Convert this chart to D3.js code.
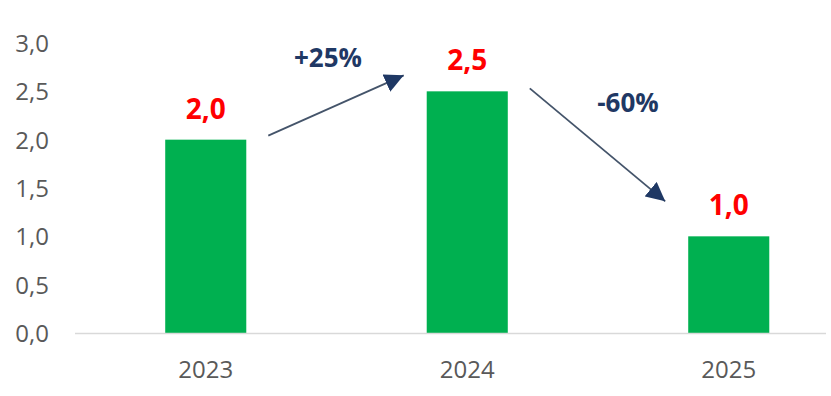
<!DOCTYPE html>
<html>
<head>
<meta charset="utf-8">
<script src="https://cdn.jsdelivr.net/npm/d3@7"></script>
<style>
  body { margin: 0; background: #fff; }
  text { font-family: "Open Sans", sans-serif; }
</style>
</head>
<body>
<div id="grafico"></div>
<script>
var anos = ["2023", "2024", "2025"];
var valores = [2.0, 2.5, 1.0];
var ticks_y = [0, 0.5, 1.0, 1.5, 2.0, 2.5, 3.0];
var variacoes = ["+25%", "-60%"];

var width = 831, height = 396;
var cor_barra = "#00b050";
var cor_rotulo = "#ff0000";
var cor_seta = "#1f3864";
var cor_texto = "#595959";

var fmt = function(v){ return d3.format(".1f")(v).replace(".", ","); };

var svg = d3.select("#grafico")
            .append("svg")
            .attr("width", width)
            .attr("height", height);

var x = d3.scaleBand()
          .domain(anos)
          .range([75, 859.5])
          .paddingInner(0.69)
          .paddingOuter(0.345);

var y = d3.scaleLinear()
          .domain([0, 3])
          .range([333, 43]);

// eixo y (apenas rótulos)
var yAxis = d3.axisLeft(y)
              .tickValues(ticks_y)
              .tickFormat(fmt)
              .tickSize(0)
              .tickPadding(0);

svg.append("g")
   .attr("class", "y axis")
   .attr("transform", "translate(49,0)")
   .call(yAxis)
   .call(function(g){ g.select(".domain").remove(); })
   .selectAll("text")
   .style("font-size", "24px")
   .style("font-family", "'Open Sans', sans-serif")
   .attr("fill", cor_texto)
   .attr("dy", "0.35em");

// barras
svg.append("g")
   .selectAll("rect")
   .data(valores)
   .enter()
   .append("rect")
   .attr("x", function(d, i){ return x(anos[i]); })
   .attr("y", function(d){ return y(d); })
   .attr("width", x.bandwidth())
   .attr("height", function(d){ return y(0) - y(d); })
   .style("fill", cor_barra);

// linha base
svg.append("line")
   .attr("x1", 75)
   .attr("x2", 826)
   .attr("y1", y(0) + 0.5)
   .attr("y2", y(0) + 0.5)
   .style("stroke", "#d9d9d9")
   .style("stroke-width", 1.5);

// eixo x
var xAxis = d3.axisBottom(x).tickSize(0).tickPadding(0);

svg.append("g")
   .attr("class", "x axis")
   .attr("transform", "translate(0," + (y(0)) + ")")
   .call(xAxis)
   .call(function(g){ g.select(".domain").remove(); })
   .selectAll("text")
   .style("font-size", "24px")
   .style("font-family", "'Open Sans', sans-serif")
   .attr("fill", cor_texto)
   .attr("dy", "0")
   .attr("y", 45);

// rótulos de dados
svg.append("g")
   .selectAll("text")
   .data(valores)
   .enter()
   .append("text")
   .attr("x", function(d, i){ return x(anos[i]) + x.bandwidth() / 2; })
   .attr("y", function(d){ return y(d) - 21; })
   .attr("text-anchor", "middle")
   .style("font-size", "28px")
   .style("font-weight", "bold")
   .style("fill", cor_rotulo)
   .text(fmt);

// setas de variação
svg.append("defs")
   .append("marker")
   .attr("id", "ponta")
   .attr("viewBox", "0 0 10 10")
   .attr("refX", 10)
   .attr("refY", 5)
   .attr("markerUnits", "userSpaceOnUse")
   .attr("markerWidth", 19)
   .attr("markerHeight", 19)
   .attr("orient", "auto")
   .append("path")
   .attr("d", "M0,0 L10,5 L0,10 z")
   .style("fill", cor_seta);

var setas = variacoes.map(function(v, i){
    var a = anos[i], b = anos[i + 1];
    var sobe = valores[i + 1] > valores[i];
    return {
        rotulo: v,
        x1: x(a) + x.bandwidth() + 22,
        y1: sobe ? y(valores[i]) - 4 : y(valores[i]) - 3,
        x2: x(b) - 23,
        y2: sobe ? y(valores[i + 1]) - 16 : y(valores[i + 1]) - 35,
        tx: sobe ? 328 : 628,
        ty: sobe ? 67 : 112
    };
});

svg.append("g")
   .selectAll("line")
   .data(setas)
   .enter()
   .append("line")
   .attr("x1", function(d){ return d.x1; })
   .attr("y1", function(d){ return d.y1; })
   .attr("x2", function(d){ return d.x2; })
   .attr("y2", function(d){ return d.y2; })
   .style("stroke", "#44546a")
   .style("stroke-width", 1.8)
   .attr("marker-end", "url(#ponta)");

svg.append("g")
   .selectAll("text")
   .data(setas)
   .enter()
   .append("text")
   .attr("x", function(d){ return d.tx; })
   .attr("y", function(d){ return d.ty; })
   .attr("text-anchor", "middle")
   .style("font-size", "26px")
   .style("font-weight", "bold")
   .style("fill", cor_seta)
   .text(function(d){ return d.rotulo; });
</script>
</body>
</html>
